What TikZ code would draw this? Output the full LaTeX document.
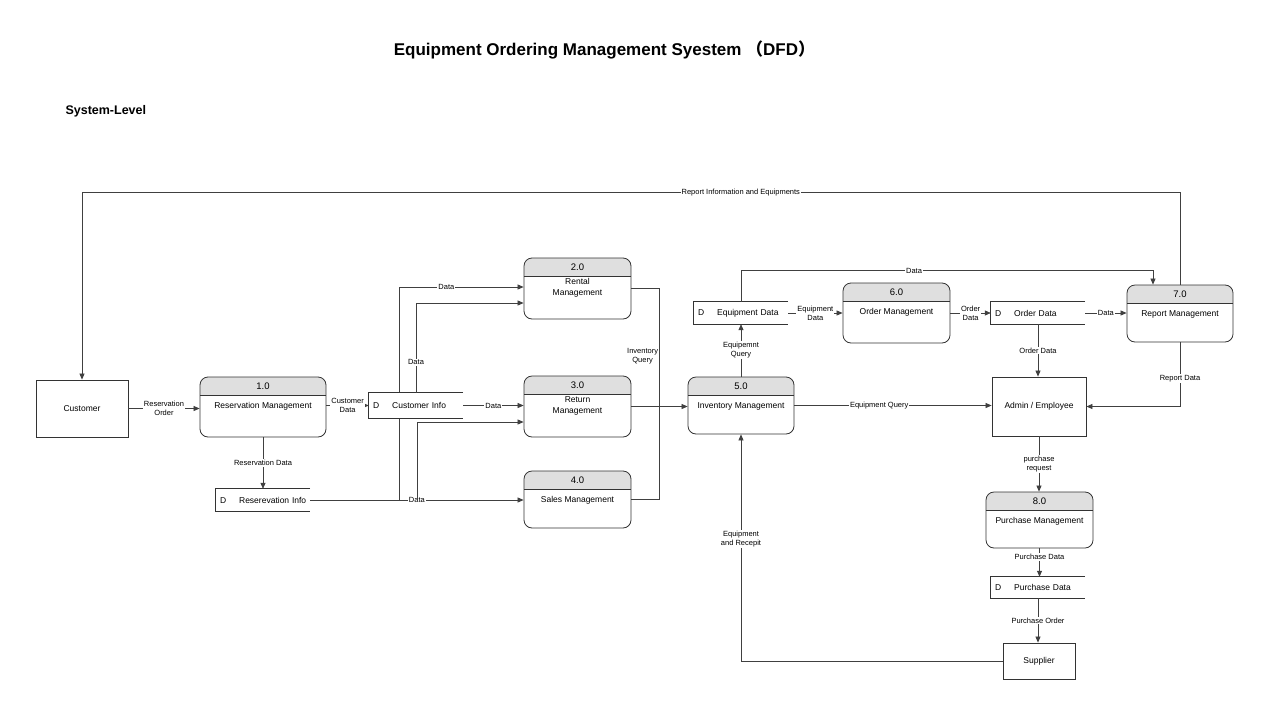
\documentclass[tikz,border=0pt]{standalone}
\usepackage{fontspec}
\setmainfont{Liberation Sans}
\newfontfamily\cjkfont{Noto Sans CJK SC}
\usetikzlibrary{arrows.meta, positioning, backgrounds}

\begin{document}
\begin{tikzpicture}[x=1pt, y=-1pt,
    proc/.style={draw=black!80, line width=0.8pt, rounded corners=8pt, fill=white,
      path picture={
        \fill[gray!25, sharp corners] (path picture bounding box.north west) rectangle ([yshift=-18.5pt]path picture bounding box.north east);
        \draw[black!80, line width=0.8pt] ([yshift=-18.5pt]path picture bounding box.north west) -- ([yshift=-18.5pt]path picture bounding box.north east);}},
    pnum/.style={anchor=center, yshift=-9.5pt, font=\fontsize{9.5}{11}\selectfont},
    ptxt/.style={anchor=center, yshift=-30pt, align=center, font=\fontsize{8.5}{11}\selectfont},
    ent/.style={draw=black!80, line width=0.8pt, fill=white, font=\fontsize{8.5}{10}\selectfont},
    store/.style={fill=white, minimum width=94pt, minimum height=22pt, inner xsep=2pt, inner ysep=0pt,
      text width=90pt, align=left, font=\fontsize{8.5}{10}\selectfont,
      execute at begin node={\hspace*{2pt}D\hspace{13pt}},
      append after command={\pgfextra{
        \draw[black!80, line width=0.8pt] (\tikzlastnode.north east) -- (\tikzlastnode.north west)
          -- (\tikzlastnode.south west) -- (\tikzlastnode.south east)
          ([xshift=21pt]\tikzlastnode.north west) -- ([xshift=21pt]\tikzlastnode.south west);}}},
    flow/.style={draw=black!75, line width=0.75pt, -{Triangle[length=6pt, width=5pt]}},
    wire/.style={draw=black!75, line width=0.75pt},
    lbl/.style={fill=white, inner sep=1pt, align=center, font=\fontsize{7.5}{9}\selectfont}
]
    \useasboundingbox (0, 0) rectangle (1269, 715);

    \node[font=\bfseries\fontsize{17}{20}\selectfont] (title) at (604.5, 50) {Equipment Ordering Management Syestem {\cjkfont （}DFD{\cjkfont ）}};
    \node[font=\bfseries\fontsize{12.5}{15}\selectfont, anchor=west] (level) at (62, 111) {System-Level};

    \node[ent, minimum width=92pt, minimum height=57pt] (cust) at (82, 408.5) {Customer};
    \node[proc, minimum width=126pt, minimum height=60pt, label={[pnum]north:1.0}, label={[ptxt]north:Reservation Management}] (p1) at (263, 407) {};
    \node[store] (rinfo) at (263, 500) {Reserevation Info};
    \node[store, minimum height=25pt] (cinfo) at (416, 405.5) {Customer Info};
    \node[proc, minimum width=107pt, minimum height=61pt, label={[pnum]north:2.0}, label={[ptxt]north:Rental\\Management}] (p2) at (577.5, 288.5) {};
    \node[proc, minimum width=107pt, minimum height=61pt, label={[pnum]north:3.0}, label={[ptxt]north:Return\\Management}] (p3) at (577.5, 406.5) {};
    \node[proc, minimum width=107pt, minimum height=57pt, label={[pnum]north:4.0}, label={[ptxt]north:Sales Management}] (p4) at (577.5, 499.5) {};
    \node[proc, minimum width=106pt, minimum height=57pt, label={[pnum]north:5.0}, label={[ptxt]north:Inventory Management}] (p5) at (741, 405.5) {};
    \node[store] (eqd) at (741, 313) {Equipment Data};
    \node[proc, minimum width=107pt, minimum height=60pt, label={[pnum]north:6.0}, label={[ptxt]north:Order Management}] (p6) at (896.5, 313) {};
    \node[store] (od) at (1038, 313) {Order Data};
    \node[proc, minimum width=106pt, minimum height=57pt, label={[pnum]north:7.0}, label={[ptxt]north:Report Management}] (p7) at (1180, 313.5) {};
    \node[ent, minimum width=94pt, minimum height=59pt] (admin) at (1039, 406.5) {Admin / Employee};
    \node[proc, minimum width=107pt, minimum height=56pt, label={[pnum]north:8.0}, label={[ptxt]north:Purchase Management}] (p8) at (1039.5, 520) {};
    \node[store, minimum height=21pt] (pd) at (1038, 587.5) {Purchase Data};
    \node[ent, minimum width=72pt, minimum height=36pt] (sup) at (1039, 661) {Supplier};

    \coordinate (ja) at (399, 500);
    \coordinate (jb) at (417, 500);

    \draw[flow] (cust.east) -- node[lbl] {Reservation\\Order} (cust.east -| p1.west);
    \draw[flow] (p1.east |- cinfo.west) -- node[lbl] {Customer\\Data} (cinfo.west);
    \draw[flow] (p1.south) -- node[lbl] {Reservation Data} (p1.south |- rinfo.north);
    \draw[flow] (rinfo.east) -- node[lbl] {Data} (rinfo.east -| p4.west);
    \begin{pgfonlayer}{background}
    \draw[flow] (ja) |- node[lbl, pos=0.69] {Data} ([yshift=1.5pt]p2.west);
    \end{pgfonlayer}
    \draw[flow] (cinfo.north) |- node[lbl, pos=0.17] {Data} ([yshift=-14.5pt]p2.west);
    \draw[flow] (cinfo.east) -- node[lbl] {Data} (cinfo.east -| p3.west);
    \draw[flow] (jb) |- ([yshift=-15.5pt]p3.west);
    \draw[wire] (p2.east) -| node[lbl, left, pos=0.66] {Inventory\\Query} ([xshift=28pt]p4.east) -- (p4.east);
    \draw[flow] (p3.east) -- (p3.east -| p5.west);
    \draw[flow] (p5.north) -- node[lbl] {Equipemnt\\Query} (eqd.south);
    \draw[flow] (eqd.north) -- ++(0, -31) -| node[lbl, pos=0.21] {Data} ([xshift=-27pt]p7.north);
    \draw[flow] (eqd.east) -- node[lbl] {Equipment\\Data} (eqd.east -| p6.west);
    \draw[flow] (p6.east) -- node[lbl] {Order\\Data} (p6.east -| od.west);
    \draw[flow] (od.east) -- node[lbl] {Data} (od.east -| p7.west);
    \draw[flow] (od.south) -- node[lbl] {Order Data} (od.south |- admin.north);
    \draw[flow] (p5.east) -- node[lbl, pos=0.43] {Equipment Query} (p5.east -| admin.west);
    \draw[flow] (p7.south) |- node[lbl, pos=0.28] {Report Data} (admin.east);
    \draw[flow] (p7.north) -- ++(0, -92) -| node[lbl, pos=0.2] {Report Information and Equipments} (cust.north);
    \draw[flow] (admin.south) -- node[lbl] {purchase\\request} (admin.south |- p8.north);
    \draw[flow] (p8.south) -- node[lbl, pos=0.3] {Purchase Data} (p8.south |- pd.north);
    \draw[flow] (pd.south) -- node[lbl] {Purchase Order} (pd.south |- sup.north);
    \draw[flow] (sup.west) -| node[lbl, pos=0.77] {Equipment\\and Recepit} (p5.south);
\end{tikzpicture}
\end{document}
